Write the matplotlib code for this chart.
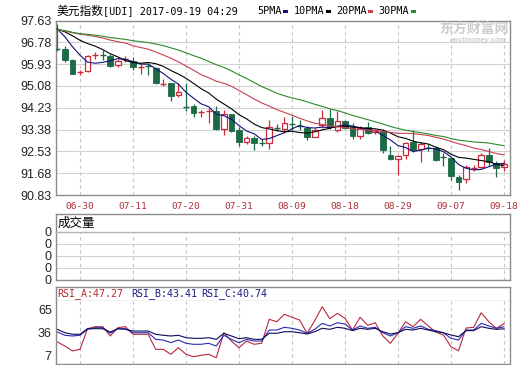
import numpy as np
import pandas as pd
import matplotlib
matplotlib.use("Agg")
import matplotlib.pyplot as plt
from matplotlib.patches import Rectangle

# ---- data ----
dates = pd.bdate_range("2017-06-27", "2017-09-18").strftime("%m-%d").tolist()
tick_labels = ["06-30", "07-11", "07-20", "07-31", "08-09", "08-18", "08-29", "09-07", "09-18"]

opens = [96.53, 96.52, 96.08, 95.62, 95.66, 96.27, 96.29, 96.25, 95.89, 96.11,
         96.06, 95.79, 95.87, 95.76, 95.16, 95.18, 94.73, 94.27, 94.29, 94.06,
         94.11, 94.10, 93.40, 93.97, 93.36, 92.88, 93.07, 92.88, 92.86, 93.47,
         93.40, 93.62, 93.51, 93.45, 93.10, 93.54, 93.84, 93.38, 93.70, 93.49,
         93.12, 93.49, 93.30, 93.31, 92.40, 92.23, 92.40, 92.88, 92.62, 92.68,
         92.66, 92.33, 92.27, 91.55, 91.45, 91.87, 91.94, 92.40, 92.07, 91.94]
highs = [97.50, 96.62, 96.12, 95.71, 96.28, 96.39, 96.48, 96.32, 96.12, 96.23,
         96.19, 95.93, 95.99, 95.80, 95.34, 95.21, 95.21, 95.21, 94.36, 94.16,
         94.23, 94.29, 94.14, 93.97, 93.48, 93.12, 93.12, 93.00, 93.77, 93.60,
         93.88, 93.92, 93.77, 93.50, 93.45, 94.14, 94.19, 94.10, 93.77, 93.62,
         93.50, 93.66, 93.40, 93.39, 92.72, 92.40, 92.89, 93.38, 92.90, 92.80,
         92.72, 92.45, 92.30, 91.62, 92.01, 92.01, 92.45, 92.66, 92.15, 92.20]
lows = [96.44, 96.02, 95.54, 95.50, 95.63, 96.13, 96.10, 95.83, 95.80, 96.02,
        95.71, 95.54, 95.50, 95.14, 95.08, 94.49, 94.66, 94.10, 93.88, 93.88,
        93.64, 93.35, 93.18, 93.27, 92.75, 92.83, 92.57, 92.73, 92.62, 93.33,
        93.25, 93.38, 93.37, 92.97, 93.09, 93.45, 93.40, 93.27, 93.40, 93.00,
        93.02, 93.20, 93.22, 92.46, 92.20, 91.61, 92.24, 92.50, 92.10, 92.55,
        92.15, 91.97, 91.42, 91.03, 91.31, 91.75, 91.90, 91.97, 91.55, 91.78]
closes = [96.52, 96.10, 95.56, 95.64, 96.23, 96.29, 96.27, 95.86, 96.06, 96.13,
          95.80, 95.81, 95.85, 95.18, 95.18, 94.69, 94.86, 94.25, 94.03, 94.08,
          94.13, 93.40, 93.97, 93.31, 92.88, 93.06, 92.86, 92.86, 93.49, 93.45,
          93.64, 93.61, 93.49, 93.10, 93.36, 93.82, 93.49, 93.70, 93.45, 93.12,
          93.45, 93.25, 93.36, 92.59, 92.23, 92.36, 92.86, 92.59, 92.83, 92.66,
          92.20, 92.31, 91.58, 91.35, 91.92, 91.89, 92.40, 92.10, 91.88, 92.04]
# closes of the 29 sessions before 06-27 (off screen, only feed the moving averages)
prior_closes = [97.1, 97.6, 97.2, 97.0, 97.3, 97.5, 97.4, 97.1, 97.2, 97.3,
                97.0, 96.9, 96.8, 97.1, 97.3, 97.4, 97.5, 97.3, 97.2, 97.9,
                97.2, 97.1, 97.4, 97.5, 97.3, 97.6, 97.5, 97.3, 97.57]

rsi_a = [23.8, 18.6, 12.2, 14.3, 40.9, 43.5, 43.5, 31.5, 42.2, 43.5,
         33.7, 33.7, 33.7, 14.3, 14.3, 7.9, 16.4, 7.9, 4.8, 6.6,
         7.9, 3.5, 35.7, 25.0, 16.4, 25.0, 20.8, 22.1, 53.0, 49.9,
         59.4, 55.6, 52.1, 35.0, 51.2, 69.3, 53.8, 60.7, 54.3, 39.2,
         55.6, 45.3, 48.6, 31.5, 22.1, 35.0, 49.9, 43.5, 53.0, 44.4,
         36.6, 32.8, 17.7, 12.5, 41.8, 42.7, 61.5, 49.9, 41.4, 47.27]
rsi_b = [36.6, 32.4, 31.5, 32.4, 40.1, 42.2, 42.2, 35.0, 40.9, 40.9,
         35.7, 35.7, 35.7, 27.2, 26.3, 22.9, 26.3, 22.1, 20.8, 20.8,
         22.1, 18.6, 32.4, 27.2, 22.9, 27.2, 25.0, 25.0, 39.2, 39.2,
         42.7, 41.4, 39.2, 35.0, 40.1, 47.8, 44.4, 48.6, 46.9, 39.2,
         44.4, 41.4, 42.7, 35.7, 31.5, 35.7, 43.5, 41.4, 44.4, 40.1,
         38.4, 35.7, 28.5, 26.3, 39.2, 39.2, 47.8, 44.4, 41.4, 43.41]
rsi_c = [40.1, 35.7, 33.7, 33.7, 40.9, 40.9, 40.9, 36.6, 40.9, 40.1,
         37.9, 37.9, 37.9, 33.7, 32.4, 31.5, 32.4, 29.3, 28.5, 28.5,
         29.3, 27.2, 35.0, 31.5, 28.0, 29.3, 27.2, 27.2, 35.0, 35.0,
         37.0, 37.0, 35.7, 34.1, 37.0, 41.4, 40.1, 42.7, 41.4, 38.4,
         41.4, 40.1, 41.4, 37.0, 34.1, 35.7, 40.1, 39.2, 41.4, 39.2,
         37.0, 35.7, 32.8, 30.6, 38.4, 38.4, 43.5, 41.4, 40.1, 40.74]

price_ticks = [90.83, 91.68, 92.53, 93.38, 94.23, 95.08, 95.93, 96.78, 97.63]
rsi_ticks = [7, 36, 65]
ma_windows = [5, 10, 20, 30]
ma_names = ["5PMA", "10PMA", "20PMA", "30PMA"]

# ---- style ----
plt.rcParams['font.family'] = ['Liberation Sans', 'Noto Sans CJK SC', 'DejaVu Sans']
UP = '#cf2a3c'
DOWN = '#1b6b47'
MA_COLORS = ['#10107a', '#000000', '#c8404e', '#2a8a2a']
FRAME = '#8c8c8c'
GRID = '#d2d2d2'
TICKRED = '#b03038'
MONO = 'DejaVu Sans Mono'

W, H = 520, 365
fig = plt.figure(figsize=(W / 100, H / 100), dpi=100)


def box(l, t, r, b):
    return [l / W, 1 - b / H, (r - l) / W, (b - t) / H]


def fx(x):
    return x / W


def fy(y):
    return 1 - y / H


n = len(closes)
idx = np.arange(n)
tick_pos = [dates.index(t) for t in tick_labels]
XLIM = (-0.17, 59.8)


def frame(a):
    for s in a.spines.values():
        s.set_color(FRAME)
        s.set_linewidth(1)
    a.set_xlim(*XLIM)


# ---- price panel ----
ax = fig.add_axes(box(56, 20.5, 510, 195))
frame(ax)
ax.set_ylim(price_ticks[0], price_ticks[-1])
ax.set_yticks(price_ticks)
ax.set_yticklabels([f"{t:.2f}" for t in price_ticks])
ax.set_xticks(tick_pos)
ax.set_xticklabels(tick_labels)
for lbl in ax.get_xticklabels():
    lbl.set_fontfamily(MONO)
ax.tick_params(axis='y', length=0, pad=3, labelsize=9, labelcolor='#222222')
ax.tick_params(axis='x', length=0, pad=5, labelsize=6.8, labelcolor=TICKRED)
ax.set_axisbelow(True)
ax.grid(axis='y', color=GRID, lw=0.8)
ax.grid(axis='x', color='#c4c4c4', lw=0.8, ls=(0, (3, 3)))

o = np.array(opens)
c = np.array(closes)
up = c >= o
col = np.where(up, UP, DOWN)
ax.vlines(idx, lows, highs, colors=col, lw=0.9, zorder=2)
for i in range(n):
    if abs(c[i] - o[i]) < 0.04:
        ax.hlines((o[i] + c[i]) / 2, i - 0.4, i + 0.4, colors=col[i], lw=1.0, zorder=3)
    elif up[i]:
        ax.add_patch(Rectangle((i - 0.38, o[i]), 0.76, c[i] - o[i], facecolor='white',
                               edgecolor=UP, lw=0.9, zorder=3))
    else:
        ax.add_patch(Rectangle((i - 0.38, c[i]), 0.76, o[i] - c[i], facecolor=DOWN,
                               edgecolor=DOWN, lw=0.6, zorder=3))

full = pd.Series(prior_closes + closes)
for w, colr in zip(ma_windows, MA_COLORS):
    ma = full.rolling(w).mean().iloc[len(prior_closes):].to_numpy()
    ax.plot(idx, ma, color=colr, lw=0.8, zorder=4)

# title line
fig.text(fx(57), fy(11), "美元指数", family='Noto Sans CJK SC', fontsize=8.5, va='center')
fig.text(fx(103), fy(11), "[UDI] 2017-09-19 04:29", family=MONO, fontsize=7.3, va='center')
x0 = 257
for name, colr in zip(ma_names, MA_COLORS):
    fig.text(fx(x0), fy(11), name, family=MONO, fontsize=7.3, va='center')
    bx = x0 + len(name) * 6.1 + 2
    fig.add_artist(Rectangle((fx(bx), fy(12.5)), 5 / W, 3 / H, transform=fig.transFigure,
                             facecolor=colr, edgecolor='none'))
    x0 = bx + 10

# watermark
fig.text(fx(474), fy(29), "东方财富网", family='Noto Sans CJK SC', fontsize=10,
         color='#cdcdcd', fontweight='bold', ha='center', va='center')
fig.text(fx(478), fy(40), "eastmoney.com", fontsize=5.5, color='#d0d0d0',
         fontweight='bold', style='italic', ha='center', va='center')

# ---- volume panel ----
axh = fig.add_axes(box(56, 214, 510, 232))
frame(axh)
axh.spines['bottom'].set_visible(False)
axh.set_xticks([])
axh.set_yticks([])
axh.text(0.004, 0.5, "成交量", transform=axh.transAxes, family='Noto Sans CJK SC',
         fontsize=9, va='center')

axv = fig.add_axes(box(56, 232, 510, 280))
frame(axv)
axv.spines['top'].set_color('#b4b4b4')
axv.set_ylim(0, 4)
axv.set_yticks(range(5))
axv.set_yticklabels(["0"] * 5)
axv.set_xticks(tick_pos)
axv.set_xticklabels([])
axv.tick_params(length=0, pad=3, labelsize=9, labelcolor='#222222')
axv.set_axisbelow(True)
axv.grid(axis='y', color=GRID, lw=0.8)
axv.grid(axis='x', color='#c4c4c4', lw=0.8, ls=(0, (3, 3)))

# ---- RSI panel ----
axr_h = fig.add_axes(box(56, 287, 510, 301))
frame(axr_h)
axr_h.spines['bottom'].set_color('#b4b4b4')
axr_h.set_xticks([])
axr_h.set_yticks([])
rsi_head = [("RSI_A:%.2f" % rsi_a[-1], '#b8282e', 57),
            ("RSI_B:%.2f" % rsi_b[-1], '#1c1c80', 131),
            ("RSI_C:%.2f" % rsi_c[-1], '#1c1c80', 201)]
for txt, colr, xp in rsi_head:
    fig.text(fx(xp), fy(294), txt, family=MONO, fontsize=7.2, color=colr, va='center')

axr = fig.add_axes(box(56, 301, 510, 364))
frame(axr)
axr.spines['top'].set_visible(False)
axr.set_ylim(-4.6, 76.6)
axr.set_yticks(rsi_ticks)
axr.set_xticks(tick_pos)
axr.set_xticklabels([])
axr.tick_params(length=0, pad=3, labelsize=9, labelcolor='#222222')
axr.set_axisbelow(True)
axr.grid(axis='x', color='#c4c4c4', lw=0.8, ls=(0, (3, 3)))
axr.plot(idx, rsi_a, color='#b8283c', lw=0.8)
axr.plot(idx, rsi_b, color='#2a2ab4', lw=0.8)
axr.plot(idx, rsi_c, color='#0c0c58', lw=0.8)

fig.savefig("out.png", dpi=100, facecolor='white')
